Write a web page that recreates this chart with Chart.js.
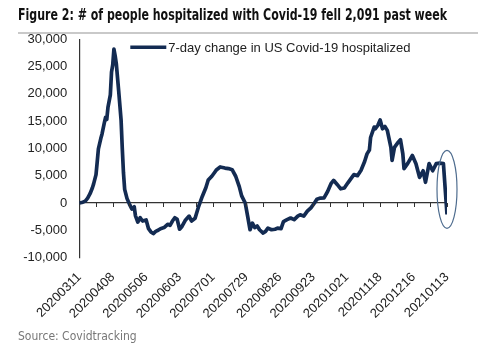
<!DOCTYPE html>
<html>
<head>
<meta charset="utf-8">
<script src="https://cdn.jsdelivr.net/npm/chart.js@4.4.0/dist/chart.umd.min.js"></script>
<style>
  html, body { margin: 0; padding: 0; background: #fff; }
</style>
</head>
<body>
<canvas id="myChart" width="500" height="349"></canvas>
<script>
// giorni dal 20200311 e variazione a 7 giorni dei ricoverati
const days = [
  0, 3, 5, 7, 9, 11, 12, 14, 15, 16, 18, 19, 21, 22, 23, 24, 26, 27, 28, 29,
  30, 31, 33, 35, 36, 37, 38, 40, 42, 44, 46, 47, 49, 51, 53, 56, 58, 60, 62, 64,
  66, 68, 71, 74, 76, 78, 80, 82, 84, 86, 89, 92, 94, 97, 100, 103, 106, 108, 111, 113,
  115, 118, 120, 122, 125, 128, 131, 134, 136, 139, 141, 143, 145, 147, 149, 151, 154, 156, 158, 161,
  164, 166, 169, 171, 174, 177, 180, 183, 185, 188, 191, 194, 197, 199, 202, 205, 208, 211, 213, 216,
  219, 222, 225, 228, 230, 233, 236, 239, 241, 243, 244, 247, 248, 250, 252, 254, 256, 258, 261, 262,
  264, 267, 269, 271, 272, 275, 279, 282, 285, 288, 290, 293, 296, 299, 302, 305, 308
];
const weeklyChange = [
  0, 150, 350, 900, 1700, 2800, 3500, 5200, 7500, 9900, 11800, 12600, 14700, 15700, 15300, 17500, 19800, 24000, 25300, 28200,
  27000, 25500, 20500, 15200, 10000, 5500, 2500, 800, -200, -1100, -700, -2300, -3500, -2700, -3300, -3100, -4700, -5300, -5600, -5200,
  -5000, -4700, -4500, -3900, -4100, -3300, -2700, -3000, -4800, -4300, -3100, -2400, -3300, -2800, -600, 1200, 2800, 4200, 4900, 5500,
  6100, 6600, 6500, 6400, 6300, 6100, 4900, 3000, 1300, 0, -2400, -4900, -3700, -4500, -4200, -4900, -5500, -5200, -4600, -4900,
  -4800, -4600, -4700, -3400, -3050, -2750, -3050, -2400, -2150, -2400, -1500, -900, 0, 700, 900, 950, 2100, 3600, 4150, 3400,
  2600, 2750, 3700, 4600, 5200, 5000, 6000, 7600, 9000, 9700, 12000, 13900, 13600, 14200, 15200, 13600, 14000, 13300, 10200, 7800,
  10200, 11100, 11600, 9000, 6300, 7200, 8700, 7200, 4700, 5900, 3800, 7200, 5900, 7200, 7300, 7200, -2091
];
const tickLabels = [
  "20200311", "20200408", "20200506", "20200603", "20200701", "20200729",
  "20200826", "20200923", "20201021", "20201118", "20201216", "20210113"
];
const seriesLabel = "7-day change in US Covid-19 hospitalized";

const navy = "#132b52";
const narrow = "'Liberation Sans Narrow', 'DejaVu Sans Condensed', 'Liberation Sans', Arial, sans-serif";

// disegni extra: riga sotto il titolo, tacche sullo zero, legenda interna, ellisse
const extras = {
  id: "extras",
  afterDraw(chart) {
    const ctx = chart.ctx;
    const area = chart.chartArea;
    const x = chart.scales.x;
    const y = chart.scales.y;
    ctx.save();

    ctx.strokeStyle = "#c9c9c9";
    ctx.lineWidth = 2;
    ctx.beginPath();
    ctx.moveTo(18, 33);
    ctx.lineTo(478, 33);
    ctx.stroke();

    const y0 = y.getPixelForValue(0);
    ctx.strokeStyle = "#333";
    ctx.lineWidth = 1;
    for (let d = 14; d <= 308; d += 14) {
      const px = Math.round(x.getPixelForValue(d)) + 0.5;
      ctx.beginPath();
      ctx.moveTo(px, y0);
      ctx.lineTo(px, y0 + 4);
      ctx.stroke();
    }

    const lx = area.left + 51;
    const ly = area.top + 8;
    ctx.strokeStyle = navy;
    ctx.lineWidth = 3.6;
    ctx.beginPath();
    ctx.moveTo(lx, ly);
    ctx.lineTo(lx + 36, ly);
    ctx.stroke();
    ctx.fillStyle = "#222";
    ctx.font = "13px 'Liberation Sans', Arial, sans-serif";
    ctx.textBaseline = "middle";
    ctx.fillText(seriesLabel, lx + 38, ly + 1);

    const last = days.length - 1;
    const ex = x.getPixelForValue(days[last]);
    const ey = y.getPixelForValue(2500);
    ctx.strokeStyle = "#4f6d8f";
    ctx.lineWidth = 1.2;
    ctx.beginPath();
    ctx.ellipse(ex, ey, 10, 39, 0, 0, Math.PI * 2);
    ctx.stroke();
    ctx.restore();
  }
};

const ctx = document.getElementById("myChart").getContext("2d");
const myChart = new Chart(ctx, {
  type: "line",
  data: {
    datasets: [
      {
        label: seriesLabel,
        data: days.map((d, i) => ({ x: d, y: weeklyChange[i] })),
        borderColor: navy,
        borderWidth: 3.7,
        borderJoinStyle: "round",
        pointRadius: 0,
        tension: 0,
      },
    ],
  },
  options: {
    responsive: false,
    animation: false,
    layout: {
      padding: { left: 18, right: 53, top: 0, bottom: 0 },
    },
    plugins: {
      legend: { display: false },
      tooltip: { enabled: false },
      title: {
        display: true,
        text: "Figure 2: # of people hospitalized with Covid-19 fell 2,091 past week",
        align: "start",
        color: "#111",
        font: { family: narrow, size: 16, weight: "bold" },
        padding: { top: 6, bottom: 14 },
      },
      subtitle: {
        display: true,
        position: "bottom",
        text: "Source: Covidtracking",
        align: "start",
        color: "#777",
        font: { family: narrow, size: 12 },
        padding: { top: 4, bottom: 5 },
      },
    },
    scales: {
      x: {
        type: "linear",
        min: 0,
        max: 308,
        grid: { display: false },
        border: { display: false },
        ticks: {
          stepSize: 28,
          autoSkip: false,
          maxRotation: 45,
          minRotation: 45,
          padding: 4,
          color: "#222",
          font: { family: "'Liberation Sans', Arial, sans-serif", size: 13 },
          callback: (v) => tickLabels[v / 28],
        },
        afterFit: (scale) => {
          scale.height = 68;
        },
      },
      y: {
        min: -10000,
        max: 30000,
        grid: {
          drawTicks: false,
          lineWidth: 1.2,
          color: (c) => (c.tick && c.tick.value === 0 ? "#333" : "rgba(0,0,0,0)"),
        },
        border: { display: true, color: "#333", width: 1.2 },
        ticks: {
          stepSize: 5000,
          padding: 12,
          color: "#222",
          font: { family: "'Liberation Sans', Arial, sans-serif", size: 13 },
          callback: (v) => v.toLocaleString("en-US"),
        },
        afterFit: (scale) => {
          scale.width = 61.3;
        },
      },
    },
  },
  plugins: [extras],
});
</script>
</body>
</html>
